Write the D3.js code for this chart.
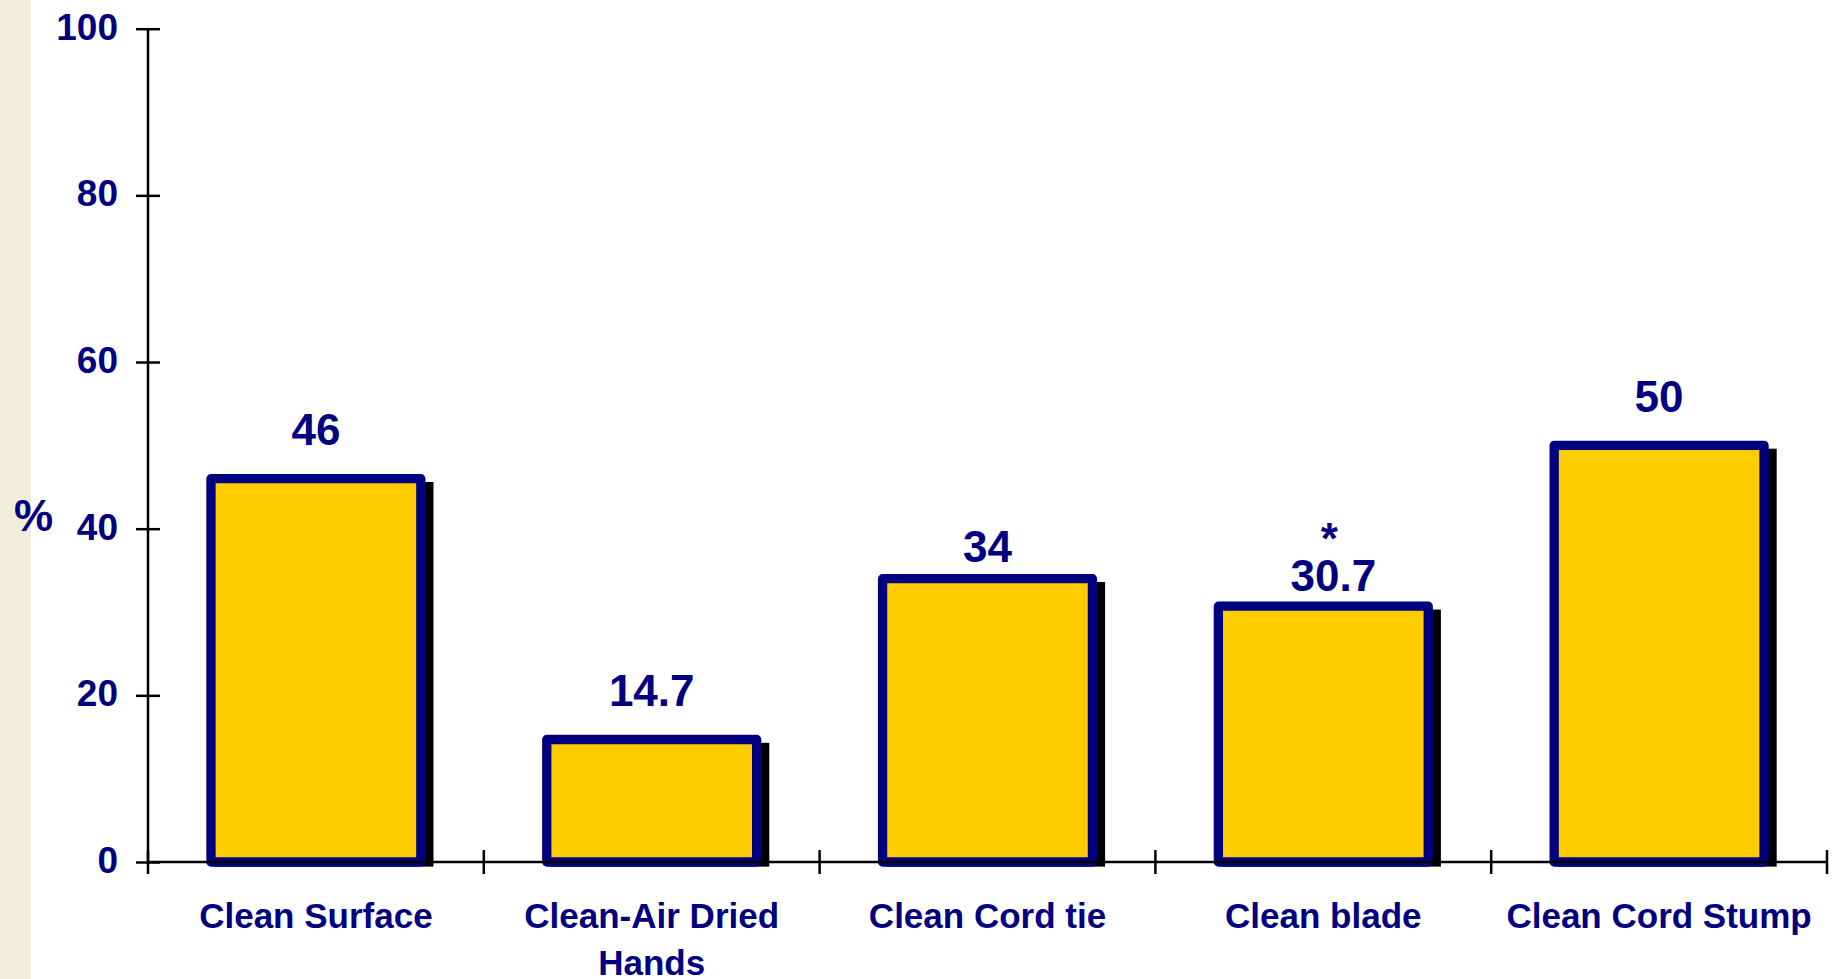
<!DOCTYPE html>
<html>
<head>
<meta charset="utf-8">
<script src="https://cdn.jsdelivr.net/npm/d3@7"></script>
<style>
  body { margin: 0; background: #fff; }
  text { font-family: "Liberation Sans", Arial, sans-serif; font-weight: bold; fill: #000080; }
</style>
</head>
<body>
<div id="chart"></div>
<script>
// data
var categories = ["Clean Surface", "Clean-Air Dried Hands", "Clean Cord tie", "Clean blade", "Clean Cord Stump"];
var values = [46, 14.7, 34, 30.7, 50];
var valueLabels = ["46", "14.7", "34", "30.7", "50"];
var notes = ["", "", "", "*", ""];
var yTicks = [0, 20, 40, 60, 80, 100];

// label nudges (layout only)
var labelLift = [34, 34, 17, 15, 33];
var labelDx = [0, 0, 0, 10, 0];

var width = 1839, height = 979;
var margin = {left: 148, right: 12, top: 28.7, bottom: 117};
var navy = "#000080", gold = "#FFCC00";
var strokeW = 9.3, shadowOff = 8;

var svg = d3.select("#chart").append("svg")
  .attr("width", width)
  .attr("height", height);

// beige strip at the left edge
svg.append("rect")
  .attr("x", 0).attr("y", 0)
  .attr("width", 31).attr("height", height)
  .attr("fill", "#F1EFDB");

var x = d3.scaleBand()
  .domain(categories)
  .range([margin.left, width - margin.right])
  .padding(0);

var y = d3.scaleLinear()
  .domain([0, 100])
  .range([height - margin.bottom, margin.top]);

var barW = x.bandwidth() * 0.625;
var y0 = y(0);

////////// bars //////////
var bars = svg.selectAll("g.bar")
  .data(values)
  .enter().append("g")
  .attr("class", "bar");

// black drop shadow
bars.append("rect")
  .attr("x", function(d, i) { return x(categories[i]) + (x.bandwidth() - barW) / 2 - strokeW / 2 + shadowOff; })
  .attr("y", function(d) { return y(d) - strokeW / 2 + shadowOff; })
  .attr("width", barW + strokeW)
  .attr("height", function(d) { return y0 - y(d) + strokeW - shadowOff; })
  .attr("fill", "#000");

bars.append("rect")
  .attr("x", function(d, i) { return x(categories[i]) + (x.bandwidth() - barW) / 2; })
  .attr("y", function(d) { return y(d); })
  .attr("width", barW)
  .attr("height", function(d) { return y0 - y(d); })
  .attr("fill", gold)
  .attr("stroke", navy)
  .attr("stroke-width", strokeW)
  .attr("stroke-linejoin", "round");

// value labels
bars.append("text")
  .attr("x", function(d, i) { return x(categories[i]) + x.bandwidth() / 2 + labelDx[i]; })
  .attr("y", function(d, i) { return y(d) - labelLift[i]; })
  .attr("text-anchor", "middle")
  .style("font-size", "44px")
  .text(function(d, i) { return valueLabels[i]; });

bars.filter(function(d, i) { return notes[i] !== ""; })
  .append("text")
  .attr("x", function(d) { var i = values.indexOf(d); return x(categories[i]) + x.bandwidth() / 2 + labelDx[i] - 4; })
  .attr("y", function(d) { var i = values.indexOf(d); return y(d) - labelLift[i] - 37; })
  .attr("text-anchor", "middle")
  .style("font-size", "44px")
  .text(function(d) { return notes[values.indexOf(d)]; });

////////// axes //////////
var axisColor = "#000", axisW = 2.5, tk = 12;

// y axis line
svg.append("line")
  .attr("x1", margin.left).attr("x2", margin.left)
  .attr("y1", y(100)).attr("y2", y0)
  .attr("stroke", axisColor).attr("stroke-width", axisW);

// y ticks cross the axis
var yAxis = svg.append("g")
  .attr("transform", "translate(" + margin.left + ",0)")
  .call(d3.axisLeft(y).tickValues(yTicks).tickSize(tk).tickPadding(18));
yAxis.select(".domain").remove();
yAxis.selectAll(".tick line")
  .attr("x1", tk).attr("x2", -tk)
  .attr("stroke", axisColor).attr("stroke-width", axisW);
yAxis.selectAll(".tick text")
  .attr("fill", navy)
  .attr("dy", "0.28em")
  .style("font-size", "37px")
  .style("font-family", "'Liberation Sans', Arial, sans-serif")
  .style("font-weight", "bold");

// x axis line and boundary ticks
svg.append("line")
  .attr("x1", margin.left).attr("x2", width - margin.right)
  .attr("y1", y0).attr("y2", y0)
  .attr("stroke", axisColor).attr("stroke-width", axisW);

var bounds = categories.map(function(c) { return x(c); }).concat([x.range()[1]]);
svg.selectAll("line.xtick")
  .data(bounds)
  .enter().append("line")
  .attr("class", "xtick")
  .attr("x1", function(d) { return d; }).attr("x2", function(d) { return d; })
  .attr("y1", y0 - tk).attr("y2", y0 + tk)
  .attr("stroke", axisColor).attr("stroke-width", axisW);

// category labels, wrapped to band width
var catText = svg.selectAll("text.cat")
  .data(categories)
  .enter().append("text")
  .attr("class", "cat")
  .attr("x", function(d) { return x(d) + x.bandwidth() / 2; })
  .attr("y", 928)
  .attr("text-anchor", "middle")
  .style("font-size", "35px");

catText.each(function(d) {
  var t = d3.select(this), words = d.split(" "), line = [];
  var cx = x(d) + x.bandwidth() / 2;
  var tspan = t.append("tspan").attr("x", cx);
  words.forEach(function(w) {
    line.push(w);
    tspan.text(line.join(" "));
    if (tspan.node().getComputedTextLength() > x.bandwidth() - 10 && line.length > 1) {
      line.pop();
      tspan.text(line.join(" "));
      line = [w];
      tspan = t.append("tspan").attr("x", cx).attr("dy", 47).text(w);
    }
  });
});

// y axis title
svg.append("text")
  .attr("x", 33.5)
  .attr("y", 531)
  .attr("text-anchor", "middle")
  .style("font-size", "44px")
  .text("%");
</script>
</body>
</html>
